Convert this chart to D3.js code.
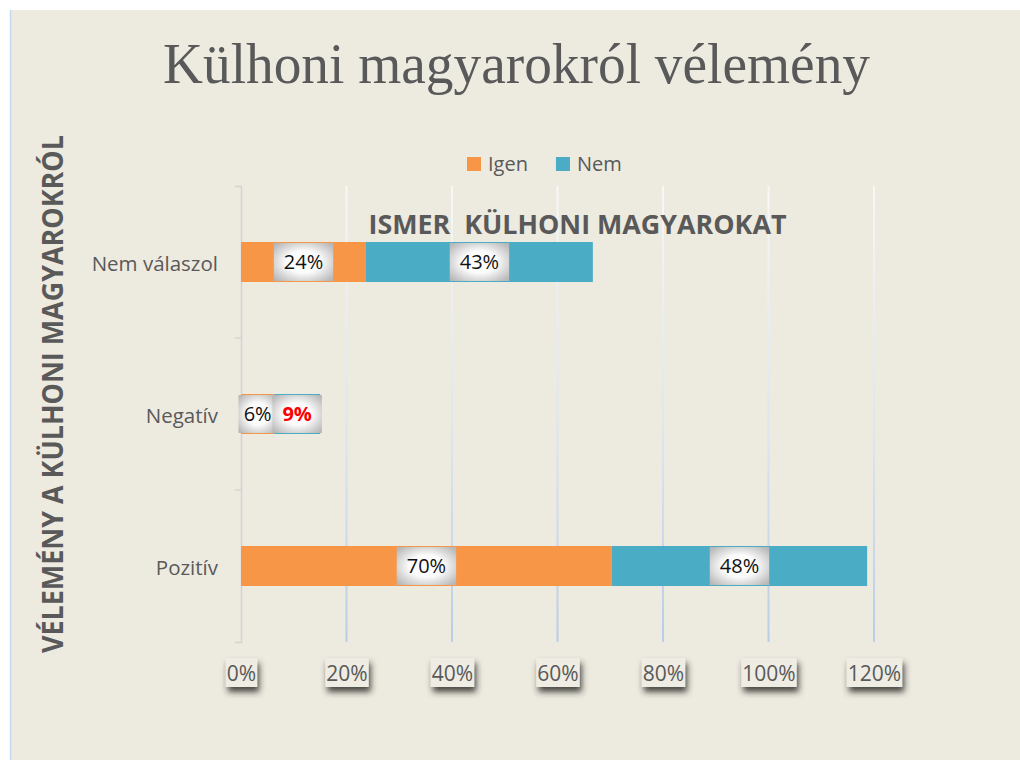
<!DOCTYPE html>
<html>
<head>
<meta charset="utf-8">
<script src="https://cdn.jsdelivr.net/npm/d3@7"></script>
<style>
  body { margin: 0; background: #ffffff; }
  svg { display: block; }
</style>
</head>
<body>
<svg id="chart"></svg>
<script>
// data
let categories = ['Nem válaszol', 'Negatív', 'Pozitív']
let seriesNames = ['Igen', 'Nem']
let igenValues = [0.237, 0.063, 0.703]
let nemValues = [0.43, 0.087, 0.484]
let xTicks = [0, 0.2, 0.4, 0.6, 0.8, 1.0, 1.2]
let colors = ['#F79646', '#4BACC6']

let W = 1020, H = 760
let margin = { top: 186, right: 146, bottom: 118, left: 241 },
    width = W - margin.left - margin.right,
    height = H - margin.top - margin.bottom

let svg = d3.select('#chart').attr('width', W).attr('height', H)

let defs = svg.append('defs')

// label box shading
let rg = defs.append('radialGradient').attr('id', 'boxGrad')
    .attr('cx', '50%').attr('cy', '50%').attr('r', '65%')
rg.append('stop').attr('offset', '0%').attr('stop-color', '#ffffff')
rg.append('stop').attr('offset', '45%').attr('stop-color', '#fbfbfb')
rg.append('stop').attr('offset', '100%').attr('stop-color', '#b8b8b8')

// gridline fade (white at top -> light blue at bottom)
let lg = defs.append('linearGradient').attr('id', 'gridGrad')
    .attr('gradientUnits', 'userSpaceOnUse')
    .attr('x1', 0).attr('y1', 0).attr('x2', 0).attr('y2', height)
lg.append('stop').attr('offset', '0%').attr('stop-color', '#f7f7f5')
lg.append('stop').attr('offset', '55%').attr('stop-color', '#dde5ef')
lg.append('stop').attr('offset', '100%').attr('stop-color', '#b9cde6')

let shadow = defs.append('filter').attr('id', 'tickShadow')
    .attr('x', '-40%').attr('y', '-40%').attr('width', '190%').attr('height', '200%')
shadow.append('feDropShadow').attr('dx', 2).attr('dy', 5).attr('stdDeviation', 3)
    .attr('flood-color', '#2b2b25').attr('flood-opacity', 0.85)

// background
svg.append('rect').attr('x', 10).attr('y', 10).attr('width', W - 10).attr('height', H - 10)
    .attr('fill', '#EDEAE0')
svg.append('line').attr('x1', 10.5).attr('x2', 10.5).attr('y1', 10).attr('y2', H)
    .attr('stroke', '#c6d9f1').attr('stroke-width', 1.5)

// title
svg.append('text')
    .attr('x', 516.5).attr('y', 83)
    .attr('text-anchor', 'middle')
    .attr('textLength', 707).attr('lengthAdjust', 'spacingAndGlyphs')
    .style('font-family', '"Liberation Serif", "DejaVu Serif", serif')
    .style('font-size', '57px')
    .style('fill', '#595959')
    .text('Külhoni magyarokról vélemény')

// y axis title
svg.append('text')
    .attr('transform', 'translate(63,394) rotate(-90)')
    .attr('text-anchor', 'middle')
    .attr('textLength', 518).attr('lengthAdjust', 'spacingAndGlyphs')
    .style('font-family', '"Open Sans", sans-serif')
    .style('font-weight', 'bold')
    .style('font-size', '28px')
    .style('fill', '#595959')
    .text('VÉLEMÉNY A KÜLHONI MAGYAROKRÓL')

// legend
let legend = svg.append('g').attr('transform', 'translate(467,157)')
let lx = 0
seriesNames.forEach(function (name, i) {
    let item = legend.append('g').attr('transform', `translate(${lx},0)`)
    item.append('rect').attr('width', 14).attr('height', 14).attr('fill', colors[i])
    let t = item.append('text').attr('x', 21).attr('y', 13.5)
        .style('font-family', '"Open Sans", sans-serif')
        .style('font-size', '20px')
        .style('fill', '#595959')
        .text(name)
    lx += 21 + t.node().getComputedTextLength() + 28
})

let g = svg.append('g').attr('transform', `translate(${margin.left},${margin.top})`)

// scales
let x = d3.scaleLinear().domain([0, 1.2]).range([0, width])
let y = d3.scaleBand().domain(categories).range([0, height])
    .paddingInner(0.737).paddingOuter(0.737 / 2)

// gridlines
g.selectAll('.grid')
    .data(xTicks.filter(d => d > 0))
    .enter().append('rect')
    .attr('class', 'grid')
    .attr('x', d => x(d) - 1)
    .attr('y', 0)
    .attr('width', 2)
    .attr('height', height)
    .attr('fill', 'url(#gridGrad)')

// y axis
let yAxis = g.append('g')
    .call(d3.axisLeft(y).tickSizeInner(0).tickSizeOuter(6).tickPadding(23))
yAxis.select('.domain').attr('stroke', '#d4d4d4').attr('stroke-width', 1.5)
yAxis.selectAll('text')
    .style('font-family', '"Open Sans", sans-serif')
    .style('font-size', '20.5px')
    .style('fill', '#595959')
    .attr('dy', '0.42em')
// category boundary ticks
for (let i = 1; i < categories.length; i++) {
    let by = y.step() * i
    g.append('line').attr('x1', -6).attr('x2', 0).attr('y1', by).attr('y2', by)
        .attr('stroke', '#d4d4d4').attr('stroke-width', 1.5)
}

// x axis with boxed labels
let xAxis = g.append('g')
    .attr('transform', `translate(0,${height})`)
    .call(d3.axisBottom(x).tickValues(xTicks).tickFormat(d3.format('.0%')).tickSize(0).tickPadding(0))
xAxis.select('.domain').remove()
xAxis.selectAll('.tick').each(function () {
    let tick = d3.select(this)
    let txt = tick.select('text')
        .attr('y', 31).attr('dy', '0.36em')
        .style('font-family', '"Open Sans", sans-serif')
        .style('font-size', '21px')
        .style('fill', '#595959')
    let tw = txt.node().getComputedTextLength()
    tick.insert('rect', 'text')
        .attr('x', -tw / 2 - 1).attr('y', 16)
        .attr('width', tw + 2).attr('height', 29)
        .attr('fill', '#EEECE3')
        .attr('filter', 'url(#tickShadow)')
})

// stacked bars
let rows = categories.map(function (c, i) {
    return { cat: c, vals: [igenValues[i], nemValues[i]] }
})

rows.forEach(function (row) {
    let x0 = 0
    row.vals.forEach(function (v, s) {
        g.append('rect')
            .attr('class', 'bar')
            .attr('x', x(x0))
            .attr('y', y(row.cat))
            .attr('width', x(v))
            .attr('height', y.bandwidth())
            .attr('fill', colors[s])
        x0 += v
    })
})

// data labels
let fmt = d3.format('.0%')
rows.forEach(function (row) {
    let x0 = 0
    row.vals.forEach(function (v, s) {
        let cx = x(x0 + v / 2)
        let segW = x(v)
        let isRed = row.cat === 'Negatív' && s === 1
        let lab = g.append('g')
        let box = lab.append('rect')
        let t = lab.append('text')
            .attr('x', cx)
            .attr('y', y(row.cat) + y.bandwidth() / 2)
            .attr('dy', '0.36em')
            .attr('text-anchor', 'middle')
            .style('font-family', '"Open Sans", sans-serif')
            .style('font-size', '20px')
            .style('font-weight', isRed ? 'bold' : 'normal')
            .style('fill', isRed ? '#ff0000' : '#111111')
            .text(fmt(v))
        let bw = Math.min(t.node().getComputedTextLength() + 20, segW + 5)
        box.attr('x', cx - bw / 2)
            .attr('y', y(row.cat) + 1)
            .attr('width', bw)
            .attr('height', y.bandwidth() - 2)
            .attr('fill', 'url(#boxGrad)')
        x0 += v
    })
})

// inner heading over the plot
svg.append('text')
    .attr('x', 577.5).attr('y', 234)
    .attr('text-anchor', 'middle')
    .attr('textLength', 418).attr('lengthAdjust', 'spacingAndGlyphs')
    .style('white-space', 'pre')
    .style('font-family', '"Open Sans", sans-serif')
    .style('font-weight', 'bold')
    .style('font-size', '27px')
    .style('fill', '#595959')
    .text('ISMER  KÜLHONI MAGYAROKAT')
</script>
</body>
</html>
